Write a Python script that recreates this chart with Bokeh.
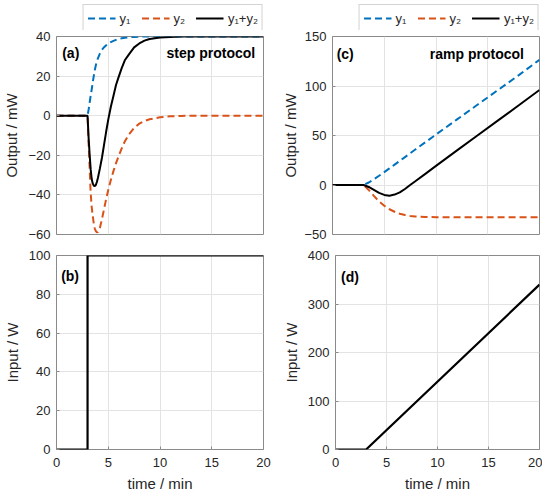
from bokeh.plotting import figure
from bokeh.models import Range1d, FixedTicker, Legend, LegendItem, Label
from bokeh.layouts import row, column
from bokeh.embed import file_html
from bokeh.resources import INLINE

# ---------------- data ----------------
x_ticks = [0, 5, 10, 15, 20]

# (a) step protocol, outputs in mW
t_a = [0, 3.0, 3.1, 3.2, 3.3, 3.4, 3.5, 3.6, 3.7, 3.8, 3.9, 4.0, 4.2, 4.4, 4.6,
       4.8, 5.0, 5.25, 5.5, 5.75, 6.0, 6.3, 6.6, 7.0, 7.5, 8.0, 8.5, 9.0, 10,
       11, 12, 14, 16, 18, 20]
y1_a = [0, 0, 3.0, 6.5, 10.0, 13.2, 16.8, 20.0, 23.0, 25.5, 27.5, 29.0, 31.5,
        33.3, 34.6, 35.6, 36.4, 37.2, 37.8, 38.3, 38.7, 39.1, 39.4, 39.6, 39.8,
        39.9, 40, 40, 40, 40, 40, 40, 40, 40, 40]
y2_a = [0, 0, -14, -26, -39, -46, -50.5, -54.5, -57, -58.3, -58.9, -58.8, -56.5,
        -52, -47, -42, -37.5, -32.5, -28, -24, -20.5, -16.5, -13, -9.5, -6.2,
        -4, -2.7, -1.8, -0.8, -0.3, -0.1, 0, 0, 0, 0]
ys_a = [0, 0, -11, -19.5, -27, -32, -34.2, -35.3, -35.6, -35, -33.5, -31.5,
        -26.5, -21, -14.5, -8, -2, 4.5, 10, 15.5, 19.5, 24, 28, 31, 34.5, 36.5,
        37.9, 38.7, 39.5, 39.8, 40, 40, 40, 40, 40]

# (b) step input, W
t_b = [0, 3, 3, 20]
u_b = [0, 0, 100, 100]

# (c) ramp protocol, outputs in mW
t_c = [0, 3, 3.5, 4, 4.5, 5, 5.5, 6, 6.5, 7, 7.5, 8, 9, 10, 12, 14, 16, 18, 20]
y1_c = [0, 0, 2.5, 5.8, 9.3, 13, 16.8, 20.6, 24.4, 28.2, 32, 35.8, 43.4, 51,
        66, 81, 96, 111, 126.5]
y2_c = [0, 0, -5, -11, -16.5, -21, -24.5, -27, -29, -30.3, -31.2, -31.7, -32.3,
        -32.5, -32.7, -32.7, -32.7, -32.7, -32.7]
ys_c = [0, 0, -2, -5, -8, -10, -10.8, -9.7, -7.5, -4, 0, 3.8, 11.5, 19.3, 34.7,
        50, 65.3, 80.5, 96]

# (d) ramp input, W
t_d = [0, 3, 20]
u_d = [0, 0, 340]

yt_a = [-60, -40, -20, 0, 20, 40]
yt_b = [0, 20, 40, 60, 80, 100]
yt_c = [-50, 0, 50, 100, 150]
yt_d = [0, 100, 200, 300, 400]

legend_labels = ["y\u2081", "y\u2082", "y\u2081+y\u2082"]

# ---------------- styling ----------------
FONT = "Liberation Sans"
BLUE = "#0072BD"
ORANGE = "#D95319"
FRAME = "#8a8a8a"
GRID = "#e3e3e3"
TXT = "#262626"
DASH = "7 4"

LEFT_W, RIGHT_W = 279, 263        # column widths
L_LEFT, L_RIGHT = 53, 16          # borders of left column
R_LEFT, R_RIGHT = 50, 3           # borders of right column


def make_fig(width, height, yr, yticks, ylabel, top, bottom, left, right,
             xaxis, ylab_standoff):
    p = figure(width=width, height=height,
               x_range=Range1d(0, 20), y_range=Range1d(*yr),
               output_backend="svg", toolbar_location=None,
               x_axis_location="below" if xaxis else None,
               min_border_top=top, min_border_bottom=bottom,
               min_border_left=left, min_border_right=right)
    p.background_fill_color = "white"
    p.border_fill_color = "white"
    p.outline_line_color = FRAME
    p.outline_line_width = 1
    p.xgrid.ticker = FixedTicker(ticks=x_ticks)
    p.ygrid.ticker = FixedTicker(ticks=yticks)
    for g in (p.xgrid, p.ygrid):
        g.grid_line_color = GRID
        g.grid_line_width = 1
    axes = list(p.yaxis) + (list(p.xaxis) if xaxis else [])
    for ax in axes:
        ax.axis_line_color = None
        ax.major_tick_in = 3
        ax.major_tick_out = 0
        ax.major_tick_line_color = FRAME
        ax.minor_tick_line_color = None
        ax.major_label_text_font = FONT
        ax.major_label_text_font_size = "13px"
        ax.major_label_text_color = TXT
        ax.axis_label_text_font = FONT
        ax.axis_label_text_font_size = "15px"
        ax.axis_label_text_font_style = "normal"
        ax.axis_label_text_color = TXT
    p.yaxis.ticker = FixedTicker(ticks=yticks)
    p.yaxis.axis_label = ylabel
    p.yaxis.major_label_standoff = 6
    p.yaxis.axis_label_standoff = ylab_standoff
    if xaxis:
        p.xaxis.ticker = FixedTicker(ticks=x_ticks)
        p.xaxis.axis_label = "time / min"
        p.xaxis.major_label_standoff = 8
        p.xaxis.axis_label_standoff = 5
    return p


def legend_fig(width, left, right, t, ys):
    """A strip holding the legend box above a panel (series kept out of view)."""
    p = figure(width=width, height=30, x_range=Range1d(0, 20),
               y_range=Range1d(1000, 1001), output_backend="svg",
               toolbar_location=None, x_axis_location=None,
               y_axis_location=None, min_border_top=4, min_border_bottom=0,
               min_border_left=left, min_border_right=right)
    p.outline_line_color = None
    p.grid.visible = False
    p.background_fill_color = "white"
    p.border_fill_color = "white"
    styles = [dict(line_color=BLUE, line_dash=DASH),
              dict(line_color=ORANGE, line_dash=DASH),
              dict(line_color="black")]
    rs = [p.line(t, y, line_width=2, **st) for y, st in zip(ys, styles)]
    items = [LegendItem(label=lab, renderers=[r])
             for lab, r in zip(legend_labels, rs)]
    lg = Legend(items=items, orientation="horizontal", location="top_right",
                margin=0, padding=4, spacing=11, glyph_width=28,
                glyph_height=18, label_height=18, label_width=0,
                label_standoff=4, label_text_font=FONT,
                label_text_font_size="13px", label_text_color=TXT,
                border_line_color="#a8a8a8", border_line_width=1,
                background_fill_color="white", background_fill_alpha=1)
    p.add_layout(lg, "center")
    return p


def add_text(p, x, y, text, align="left"):
    p.add_layout(Label(x=x, y=y, text=text, text_align=align,
                       text_baseline="top", text_font=FONT,
                       text_font_size="14px", text_font_style="bold",
                       text_color="black"))


# legend strips
la = legend_fig(LEFT_W, L_LEFT, L_RIGHT, t_a, [y1_a, y2_a, ys_a])
lc = legend_fig(RIGHT_W, R_LEFT, R_RIGHT, t_c, [y1_c, y2_c, ys_c])

# (a)
pa = make_fig(LEFT_W, 214, (-60, 40), yt_a, "Output / mW", 6, 10,
              L_LEFT, L_RIGHT, False, 5)
pa.line(t_a, y1_a, line_color=BLUE, line_width=2, line_dash=DASH)
pa.line(t_a, y2_a, line_color=ORANGE, line_width=2, line_dash=DASH)
pa.line(t_a, ys_a, line_color="black", line_width=2)
add_text(pa, 0.55, 35.6, "(a)")
add_text(pa, 19.2, 35.6, "step protocol", "right")

# (c)
pc = make_fig(RIGHT_W, 214, (-50, 150), yt_c, "Output / mW", 6, 10,
              R_LEFT, R_RIGHT, False, 2)
pc.line(t_c, y1_c, line_color=BLUE, line_width=2, line_dash=DASH)
pc.line(t_c, y2_c, line_color=ORANGE, line_width=2, line_dash=DASH)
pc.line(t_c, ys_c, line_color="black", line_width=2)
add_text(pc, 0.4, 140.5, "(c)")
add_text(pc, 18.5, 140.5, "ramp protocol", "right")

# (b)
pb = make_fig(LEFT_W, 251, (0, 100), yt_b, "Input / W", 11, 46,
              L_LEFT, L_RIGHT, True, 5)
pb.line(t_b, u_b, line_color="black", line_width=2.2)
add_text(pb, 0.45, 93.3, "(b)")

# (d)
pd_ = make_fig(RIGHT_W, 251, (0, 400), yt_d, "Input / W", 11, 46,
               R_LEFT, R_RIGHT, True, 5)
pd_.line(t_d, u_d, line_color="black", line_width=2.2)
add_text(pd_, 0.55, 373, "(d)")

layout = column(row(la, lc), row(pa, pc), row(pb, pd_))

open("out.html", "w").write(file_html(layout, INLINE))
